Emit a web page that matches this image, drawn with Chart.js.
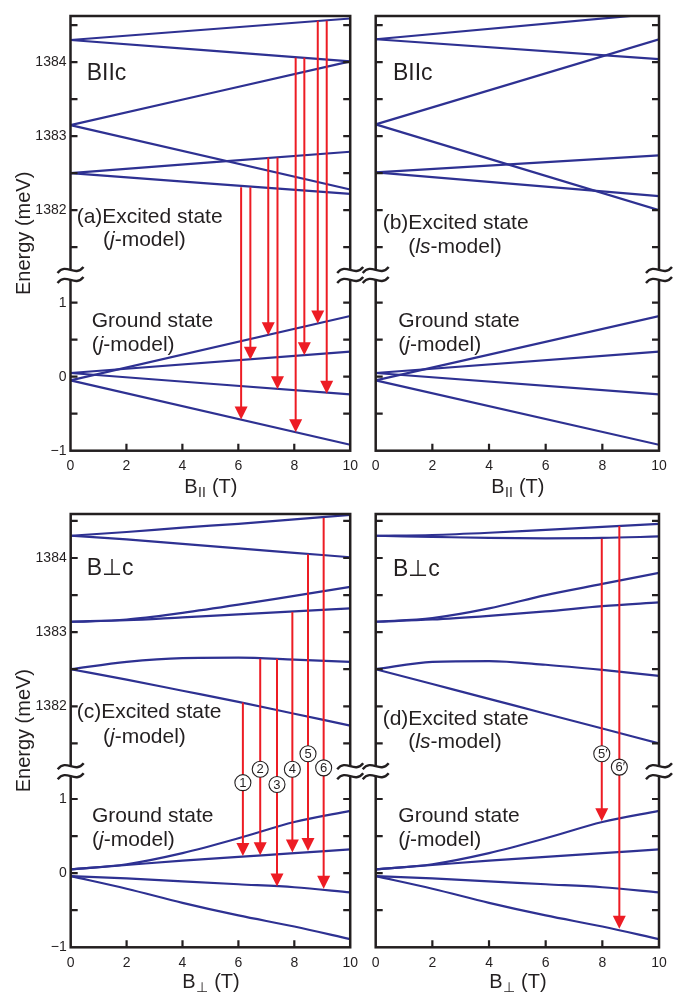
<!DOCTYPE html>
<html>
<head>
<meta charset="utf-8">
<script src="https://cdn.jsdelivr.net/npm/chart.js@4.4.1/dist/chart.umd.min.js"></script>
<style>
  html, body { margin: 0; padding: 0; background: #fff; }
  #fig { position: relative; width: 677px; height: 993px; overflow: hidden; background: #fff; }
  canvas { position: absolute; }
</style>
</head>
<body>
<div id="fig">
  <canvas id="panelA" width="365" height="500" style="left:0;top:0"></canvas>
  <canvas id="panelB" width="332" height="500" style="left:345px;top:0"></canvas>
  <canvas id="panelC" width="365" height="498" style="left:0;top:495px"></canvas>
  <canvas id="panelD" width="332" height="498" style="left:345px;top:495px"></canvas>
</div>
<script>
// magnetic field samples (T)
const fieldEnds = [0, 10];
const fieldSteps = [0, 2, 4, 6, 8, 10];

// excited state levels (meV), B parallel to c
const excitedParJ = [
    [1384.30, 1384.59],
    [1384.30, 1384.01],
    [1383.15, 1384.01],
    [1383.15, 1382.28],
    [1382.50, 1382.79],
    [1382.50, 1382.22],
];
const excitedParLs = [
    [1384.31, 1384.66],
    [1384.31, 1384.04],
    [1383.16, 1384.31],
    [1383.16, 1382.00],
    [1382.51, 1382.74],
    [1382.51, 1382.19],
];
// ground state levels (meV), B parallel to c
const groundPar = [
    [-0.05, 0.82],
    [0.05, 0.34],
    [0.05, -0.24],
    [-0.05, -0.92],
];

// B perpendicular to c, sampled at fieldSteps
const excitedPerpJ = [
    [1384.30, 1384.35, 1384.41, 1384.46, 1384.52, 1384.58],
    [1384.30, 1384.25, 1384.19, 1384.13, 1384.07, 1384.01],
    [1383.14, 1383.17, 1383.26, 1383.37, 1383.49, 1383.61],
    [1383.14, 1383.16, 1383.20, 1383.24, 1383.28, 1383.32],
    [1382.50, 1382.60, 1382.65, 1382.655, 1382.63, 1382.60],
    [1382.50, 1382.36, 1382.21, 1382.06, 1381.90, 1381.74],
];
const excitedPerpLs = [
    [1384.30, 1384.31, 1384.34, 1384.38, 1384.42, 1384.46],
    [1384.30, 1384.285, 1384.27, 1384.265, 1384.27, 1384.29],
    [1383.14, 1383.19, 1383.32, 1383.50, 1383.65, 1383.80],
    [1383.14, 1383.17, 1383.22, 1383.28, 1383.35, 1383.40],
    [1382.50, 1382.60, 1382.61, 1382.56, 1382.49, 1382.41],
    [1382.50, 1382.30, 1382.10, 1381.90, 1381.70, 1381.50],
];
const groundPerp = [
    [0.05, 0.12, 0.27, 0.47, 0.69, 0.84],
    [0.05, 0.11, 0.17, 0.22, 0.27, 0.32],
    [-0.04, -0.07, -0.11, -0.15, -0.19, -0.26],
    [-0.04, -0.21, -0.40, -0.57, -0.72, -0.89],
];

// transitions: field (T), excited level (meV), ground level (meV)
const arrowFieldA = [6.10, 6.43, 7.07, 7.40, 8.05, 8.36, 8.84, 9.16];
const arrowFromA = [1382.31, 1382.31, 1382.71, 1382.71, 1384.06, 1384.06, 1384.56, 1384.56];
const arrowToA = [-0.58, 0.23, 0.56, -0.17, -0.75, 0.29, 0.72, -0.23];

const arrowFieldC = [6.16, 6.78, 7.38, 7.93, 8.49, 9.05];
const arrowFromC = [1382.05, 1382.64, 1382.64, 1383.27, 1384.05, 1384.54];
const arrowToC = [0.23, 0.24, -0.18, 0.28, 0.30, -0.21];
const arrowMarksC = ["1", "2", "3", "4", "5", "6"];

const arrowFieldD = [7.98, 8.60];
const arrowFromD = [1384.26, 1384.43];
const arrowToD = [0.70, -0.75];
const arrowMarksD = ["5\u2032", "6\u2032"];

// axis ticks
const groundTicks = [-1, -0.5, 0, 0.5, 1];
const groundTickLabels = [-1, 0, 1];
const excitedTicks = [1381.5, 1382, 1382.5, 1383, 1383.5, 1384, 1384.5];
const excitedTickLabels = [1382, 1383, 1384];
const fieldTicks = [2, 4, 6, 8];

// the excited part sits above the axis break
const EX_SHIFT = 1379.75;
const BREAK_AT = 1.375;
function up(e) { return e - EX_SHIFT; }

const ink = "#231f20";
const navy = "#2e3192";
const red = "#ed1c24";
const family = '"Liberation Sans", Arial, Helvetica, sans-serif';

const yTickValues = groundTicks.concat(excitedTicks.map(up));

function tickLabel(v) {
    for (const g of groundTickLabels) {
        if (Math.abs(v - g) < 1e-6) return g < 0 ? "\u2212" + Math.abs(g) : String(g);
    }
    for (const e of excitedTickLabels) {
        if (Math.abs(v - up(e)) < 1e-6) return String(e);
    }
    return "";
}

function levelLine(field, vals) {
    return {
        data: field.map((b, i) => ({ x: b, y: vals[i] })),
        borderColor: navy,
        borderWidth: 2.2,
        pointRadius: 0,
        fill: false,
        cubicInterpolationMode: "monotone",
        clip: 0,
    };
}

function drawRich(ctx, x, y, size, parts) {
    let cx = x;
    for (const [t, it] of parts) {
        ctx.font = (it ? "italic " : "") + size + "px " + family;
        ctx.fillText(t, cx, y);
        cx += ctx.measureText(t).width;
    }
}

function tilde(ctx, cx, cy) {
    ctx.beginPath();
    ctx.moveTo(cx - 13, cy + 3);
    ctx.bezierCurveTo(cx - 4, cy - 8, cx + 4, cy + 8, cx + 13, cy - 3);
    ctx.stroke();
}

function decor(p) {
    return {
        id: "decor",
        afterDraw(chart) {
            const { ctx, chartArea: a } = chart;
            const xs = chart.scales.x;
            const ys = chart.scales.y;
            ctx.save();

            // transition arrows
            ctx.strokeStyle = red;
            ctx.fillStyle = red;
            ctx.lineWidth = 2;
            p.arrowField.forEach((b, i) => {
                const X = xs.getPixelForValue(b);
                const Y1 = ys.getPixelForValue(up(p.arrowFrom[i]));
                const Y2 = ys.getPixelForValue(p.arrowTo[i]);
                ctx.beginPath();
                ctx.moveTo(X, Y1);
                ctx.lineTo(X, Y2 - 11);
                ctx.stroke();
                ctx.beginPath();
                ctx.moveTo(X, Y2);
                ctx.lineTo(X - 6.5, Y2 - 13);
                ctx.lineTo(X + 6.5, Y2 - 13);
                ctx.closePath();
                ctx.fill();
            });

            // circled transition numbers
            p.marks.forEach((m, i) => {
                const X = xs.getPixelForValue(p.arrowField[i]);
                const Y = ys.getPixelForValue(p.markAt[i]);
                ctx.beginPath();
                ctx.arc(X, Y, 8, 0, Math.PI * 2);
                ctx.fillStyle = "#fff";
                ctx.fill();
                ctx.lineWidth = 1.1;
                ctx.strokeStyle = ink;
                ctx.stroke();
                ctx.fillStyle = ink;
                ctx.font = "13px " + family;
                ctx.textAlign = "center";
                ctx.textBaseline = "middle";
                ctx.fillText(m, X + (m.length > 1 ? 1 : 0), Y + 0.5);
            });

            // frame and inward ticks
            ctx.strokeStyle = ink;
            ctx.lineWidth = 2.5;
            ctx.strokeRect(a.left, a.top, a.right - a.left, a.bottom - a.top);
            ctx.lineWidth = 2.2;
            ctx.beginPath();
            for (const v of yTickValues) {
                const Y = ys.getPixelForValue(v);
                if (Y >= a.bottom - 1) continue;
                ctx.moveTo(a.left, Y);
                ctx.lineTo(a.left + 7, Y);
                ctx.moveTo(a.right, Y);
                ctx.lineTo(a.right - 7, Y);
            }
            for (const b of fieldTicks) {
                const X = xs.getPixelForValue(b);
                ctx.moveTo(X, a.bottom);
                ctx.lineTo(X, a.bottom - 7);
            }
            ctx.stroke();

            // axis break marks
            const Yb = ys.getPixelForValue(BREAK_AT);
            for (const xe of [a.left, a.right]) {
                ctx.fillStyle = "#fff";
                ctx.fillRect(xe - 3, Yb - 5, 6, 10);
                ctx.strokeStyle = ink;
                ctx.lineWidth = 2.4;
                tilde(ctx, xe, Yb - 5);
                tilde(ctx, xe, Yb + 5);
            }

            // panel texts
            ctx.fillStyle = ink;
            ctx.textAlign = "left";
            ctx.textBaseline = "alphabetic";
            for (const t of p.texts) {
                drawRich(ctx, a.left + t.x, a.top + t.y, t.size, t.parts);
            }

            // x axis title with subscript
            const xb = a.bottom + p.xTitleDy;
            ctx.font = "20px " + family;
            const wB = ctx.measureText("B").width;
            const wT = ctx.measureText(" (T)").width;
            ctx.font = "14px " + family;
            const wS = ctx.measureText(p.xSub).width;
            let sx = (a.left + a.right) / 2 - (wB + wS + wT) / 2;
            ctx.font = "20px " + family;
            ctx.fillText("B", sx, xb);
            ctx.font = "14px " + family;
            ctx.fillText(p.xSub, sx + wB + 0.5, xb + 4);
            ctx.font = "20px " + family;
            ctx.fillText(" (T)", sx + wB + wS + 1, xb);

            // y axis title
            if (p.yTitle) {
                ctx.translate(24, (a.top + a.bottom) / 2);
                ctx.rotate(-Math.PI / 2);
                ctx.textAlign = "center";
                ctx.textBaseline = "middle";
                ctx.font = "20px " + family;
                ctx.fillText("Energy (meV)", 0, 0);
            }
            ctx.restore();
        },
    };
}

function makePanel(id, p) {
    const datasets = [];
    p.excited.forEach(row => datasets.push(levelLine(p.field, row.map(up))));
    p.ground.forEach(row => datasets.push(levelLine(p.field, row)));
    return new Chart(document.getElementById(id), {
        type: "line",
        data: { datasets },
        options: {
            responsive: false,
            animation: false,
            events: [],
            layout: { padding: { left: 0, right: p.padRight, top: p.padTop, bottom: 0 } },
            plugins: {
                legend: { display: false },
                tooltip: { enabled: false },
            },
            scales: {
                x: {
                    type: "linear",
                    min: 0,
                    max: 10,
                    grid: { display: false, drawTicks: false },
                    border: { display: false },
                    ticks: { stepSize: 2, padding: 7, color: ink, font: { family, size: 14 } },
                    afterFit: s => { s.height = p.xHeight; },
                },
                y: {
                    type: "linear",
                    min: -1,
                    max: p.yMax,
                    grid: { display: false, drawTicks: false },
                    border: { display: false },
                    afterBuildTicks: s => { s.ticks = yTickValues.map(v => ({ value: v })); },
                    ticks: {
                        display: p.yTitle,
                        autoSkip: false,
                        padding: 4,
                        color: ink,
                        font: { family, size: 14 },
                        callback: v => tickLabel(v),
                    },
                    afterFit: s => { s.width = p.yWidth; },
                },
            },
        },
        plugins: [decor(p)],
    });
}

const jModel = [["("], ["j", true], ["-model)"]];
const lsModel = [["("], ["ls", true], ["-model)"]];

makePanel("panelA", {
    field: fieldEnds, excited: excitedParJ, ground: groundPar,
    arrowField: arrowFieldA, arrowFrom: arrowFromA, arrowTo: arrowToA,
    marks: [], markAt: [],
    yMax: 4.874, yWidth: 70.5, padRight: 12.3, padTop: 16, xHeight: 49.3,
    yTitle: true, xSub: "II", xTitleDy: 42.3,
    texts: [
        { x: 16.2, y: 64, size: 23, parts: [["BIIc"]] },
        { x: 6.2, y: 206.7, size: 21, parts: [["(a)Excited state"]] },
        { x: 32.5, y: 230, size: 21, parts: jModel },
        { x: 21.2, y: 310.5, size: 21, parts: [["Ground state"]] },
        { x: 21.2, y: 335, size: 21, parts: jModel },
    ],
});

makePanel("panelB", {
    field: fieldEnds, excited: excitedParLs, ground: groundPar,
    arrowField: [], arrowFrom: [], arrowTo: [],
    marks: [], markAt: [],
    yMax: 4.874, yWidth: 30.7, padRight: 18, padTop: 16, xHeight: 49.3,
    yTitle: false, xSub: "II", xTitleDy: 42.3,
    texts: [
        { x: 17.3, y: 64, size: 23, parts: [["BIIc"]] },
        { x: 7, y: 213.3, size: 21, parts: [["(b)Excited state"]] },
        { x: 32.6, y: 237.3, size: 21, parts: lsModel },
        { x: 22.6, y: 310.5, size: 21, parts: [["Ground state"]] },
        { x: 22.6, y: 335, size: 21, parts: jModel },
    ],
});

makePanel("panelC", {
    field: fieldSteps, excited: excitedPerpJ, ground: groundPerp,
    arrowField: arrowFieldC, arrowFrom: arrowFromC, arrowTo: arrowToC,
    marks: arrowMarksC, markAt: [1.22, 1.40, 1.195, 1.40, 1.61, 1.42],
    yMax: 4.843, yWidth: 70.7, padRight: 12.3, padTop: 19, xHeight: 45.7,
    yTitle: true, xSub: "\u22a5", xTitleDy: 40.7,
    texts: [
        { x: 16, y: 61, size: 23, parts: [["B\u22a5c"]] },
        { x: 6, y: 204.3, size: 21, parts: [["(c)Excited state"]] },
        { x: 32.3, y: 229, size: 21, parts: jModel },
        { x: 21.3, y: 307.7, size: 21, parts: [["Ground state"]] },
        { x: 21.3, y: 332, size: 21, parts: jModel },
    ],
});

makePanel("panelD", {
    field: fieldSteps, excited: excitedPerpLs, ground: groundPerp,
    arrowField: arrowFieldD, arrowFrom: arrowFromD, arrowTo: arrowToD,
    marks: arrowMarksD, markAt: [1.61, 1.43],
    yMax: 4.843, yWidth: 30.7, padRight: 18, padTop: 19, xHeight: 45.7,
    yTitle: false, xSub: "\u22a5", xTitleDy: 40.7,
    texts: [
        { x: 17.3, y: 61.7, size: 23, parts: [["B\u22a5c"]] },
        { x: 7, y: 211, size: 21, parts: [["(d)Excited state"]] },
        { x: 32.6, y: 234, size: 21, parts: lsModel },
        { x: 22.6, y: 307.7, size: 21, parts: [["Ground state"]] },
        { x: 22.6, y: 332, size: 21, parts: jModel },
    ],
});
</script>
</body>
</html>
